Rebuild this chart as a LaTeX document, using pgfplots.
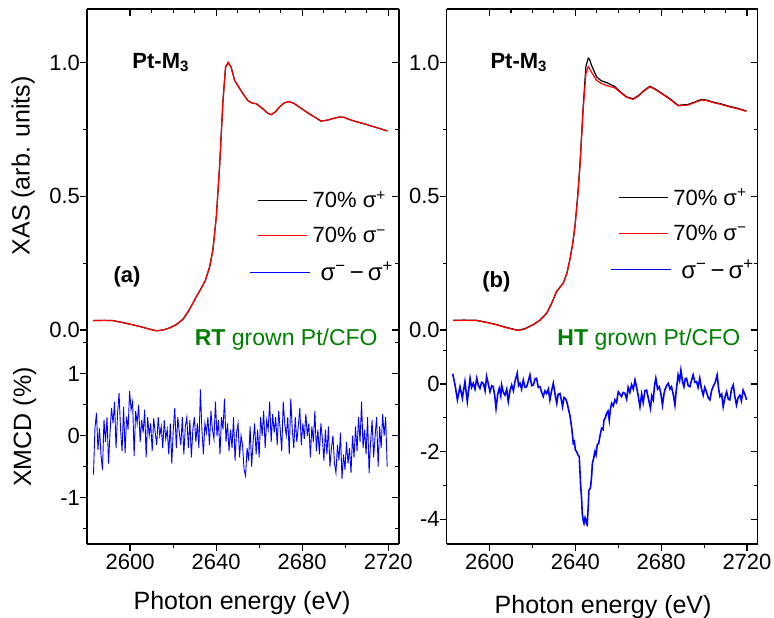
\documentclass[border=0pt]{standalone}
\usepackage{fontspec}
\setmainfont{Liberation Sans}
\usepackage{pgfplots}
\usepackage{pgfplotstable}
\pgfplotsset{compat=1.18}
\definecolor{dgreen}{RGB}{0,128,0}

\pgfplotstableread{
E y
2582.9 0.035
2588.0 0.036
2592.0 0.035
2597.0 0.027
2601.5 0.019
2606.0 0.010
2609.5 0.002
2612.3 -0.003
2615.5 0.000
2618.5 0.008
2621.5 0.020
2624.6 0.040
2627.5 0.075
2630.8 0.124
2633.0 0.155
2635.0 0.185
2637.0 0.236
2638.5 0.299
2640.1 0.423
2641.6 0.609
2643.2 0.858
2644.4 0.982
2645.6 1.000
2647.0 0.982
2648.6 0.933
2650.9 0.903
2652.8 0.880
2654.7 0.858
2656.8 0.848
2658.6 0.846
2661.7 0.827
2664.0 0.810
2665.6 0.805
2667.5 0.815
2669.4 0.833
2671.5 0.848
2673.7 0.854
2676.0 0.848
2678.7 0.833
2683.3 0.808
2686.0 0.795
2688.7 0.781
2691.5 0.784
2694.1 0.790
2697.2 0.796
2699.5 0.795
2701.9 0.787
2705.5 0.778
2709.6 0.769
2714.0 0.758
2719.6 0.744
}\xasA

\pgfplotstableread{
E y
2583.1 0.035
2588.0 0.036
2594.0 0.035
2599.0 0.027
2603.3 0.019
2608.0 0.008
2613.3 -0.002
2616.5 0.004
2620.3 0.019
2623.5 0.036
2626.6 0.062
2629.0 0.100
2631.2 0.143
2634.3 0.174
2636.0 0.210
2637.4 0.261
2638.7 0.320
2639.8 0.386
2641.0 0.490
2642.1 0.609
2643.6 0.821
2644.9 0.958
2646.0 0.985
2647.5 0.964
2649.9 0.933
2652.0 0.922
2654.5 0.914
2658.4 0.905
2661.0 0.888
2663.8 0.870
2666.9 0.862
2669.5 0.875
2671.6 0.891
2674.7 0.909
2677.0 0.900
2679.3 0.888
2684.0 0.863
2687.9 0.838
2692.5 0.841
2695.5 0.850
2698.8 0.860
2701.5 0.857
2704.2 0.850
2708.0 0.843
2711.9 0.834
2716.0 0.826
2719.7 0.817
}\xasBred

\pgfplotstableread{
E y
2583.1 0.036
2588.0 0.037
2594.0 0.036
2599.0 0.028
2603.3 0.020
2608.0 0.009
2613.3 -0.001
2616.5 0.005
2620.3 0.020
2623.5 0.037
2626.6 0.063
2629.0 0.101
2631.2 0.144
2634.3 0.175
2636.0 0.211
2637.4 0.262
2638.7 0.321
2639.8 0.388
2641.0 0.495
2642.1 0.615
2643.6 0.830
2644.9 0.985
2646.0 1.016
2646.6 1.012
2647.5 0.990
2649.9 0.946
2652.0 0.932
2654.5 0.925
2658.4 0.910
2661.0 0.890
2663.8 0.872
2666.9 0.864
2669.5 0.877
2671.6 0.893
2674.7 0.911
2677.0 0.902
2679.3 0.890
2684.0 0.865
2687.9 0.840
2692.5 0.843
2695.5 0.852
2698.8 0.862
2701.5 0.859
2704.2 0.852
2708.0 0.845
2711.9 0.836
2716.0 0.828
2719.7 0.819
}\xasBblack

\pgfplotstableread{
E y
2583.0 -0.63
2583.7 0.12
2584.4 0.37
2585.1 -0.23
2585.8 0.12
2586.5 -0.31
2587.2 -0.55
2587.9 0.26
2588.6 -0.10
2589.3 0.30
2590.0 -0.45
2590.7 0.05
2591.4 0.45
2592.1 0.20
2592.8 0.55
2593.5 -0.20
2594.2 0.35
2594.9 0.69
2595.6 0.10
2596.3 -0.25
2597.0 0.47
2597.7 -0.28
2598.4 0.31
2599.1 0.10
2599.8 0.72
2600.5 0.42
2601.2 0.55
2601.9 -0.33
2602.6 0.40
2603.3 0.20
2604.0 0.50
2604.7 -0.10
2605.4 0.25
2606.1 0.05
2606.8 0.42
2607.5 -0.35
2608.2 0.30
2608.9 0.00
2609.6 0.20
2610.3 -0.25
2611.0 0.28
2611.7 0.05
2612.4 -0.15
2613.1 0.30
2613.8 0.00
2614.5 0.15
2615.2 -0.20
2615.9 0.25
2616.6 -0.05
2617.3 0.10
2618.0 -0.30
2618.7 0.20
2619.4 -0.45
2620.1 0.10
2620.8 0.45
2621.5 -0.20
2622.2 0.30
2622.9 0.05
2623.6 -0.15
2624.3 0.30
2625.0 -0.30
2625.7 0.15
2626.4 0.30
2627.1 -0.20
2627.8 0.25
2628.5 -0.35
2629.2 0.10
2629.9 0.30
2630.6 -0.10
2631.3 0.20
2632.0 -0.20
2632.7 0.75
2633.4 0.10
2634.1 -0.30
2634.8 0.20
2635.5 0.05
2636.2 0.30
2636.9 -0.15
2637.6 0.40
2638.3 0.10
2639.0 -0.05
2639.7 0.55
2640.4 0.00
2641.1 0.25
2641.8 -0.30
2642.5 0.30
2643.2 0.10
2643.9 0.60
2644.6 -0.10
2645.3 0.20
2646.0 -0.25
2646.7 0.10
2647.4 -0.20
2648.1 0.30
2648.8 -0.40
2649.5 0.05
2650.2 0.20
2650.9 -0.35
2651.6 0.00
2652.3 -0.15
2653.0 -0.55
2653.7 -0.65
2654.4 -0.20
2655.1 -0.40
2655.8 0.15
2656.5 -0.50
2657.2 -0.10
2657.9 0.20
2658.6 -0.30
2659.3 0.10
2660.0 -0.35
2660.7 0.30
2661.4 0.00
2662.1 0.40
2662.8 -0.20
2663.5 0.25
2664.2 0.10
2664.9 0.55
2665.6 -0.10
2666.3 0.35
2667.0 0.05
2667.7 0.30
2668.4 -0.15
2669.1 0.40
2669.8 0.10
2670.5 -0.25
2671.2 0.55
2671.9 0.20
2672.6 0.00
2673.3 0.30
2674.0 -0.30
2674.7 0.60
2675.4 0.10
2676.1 -0.20
2676.8 0.30
2677.5 -0.10
2678.2 0.15
2678.9 0.45
2679.6 -0.15
2680.3 0.20
2681.0 -0.05
2681.7 0.35
2682.4 0.00
2683.1 0.20
2683.8 -0.35
2684.5 0.15
2685.2 -0.10
2685.9 0.40
2686.6 -0.25
2687.3 0.10
2688.0 -0.30
2688.7 0.20
2689.4 -0.05
2690.1 -0.40
2690.8 0.10
2691.5 -0.30
2692.2 0.15
2692.9 -0.50
2693.6 -0.20
2694.3 0.00
2695.0 -0.45
2695.7 -0.60
2696.4 -0.15
2697.1 -0.40
2697.8 0.05
2698.5 -0.70
2699.2 -0.30
2699.9 -0.55
2700.6 -0.10
2701.3 -0.45
2702.0 -0.20
2702.7 -0.60
2703.4 0.00
2704.1 -0.35
2704.8 0.15
2705.5 -0.25
2706.2 0.30
2706.9 -0.10
2707.6 0.55
2708.3 -0.20
2709.0 0.10
2709.7 -0.30
2710.4 0.30
2711.1 -0.60
2711.8 -0.10
2712.5 0.25
2713.2 -0.35
2713.9 0.00
2714.6 0.30
2715.3 -0.50
2716.0 0.15
2716.7 -0.20
2717.4 0.35
2718.1 0.00
2718.8 0.30
2719.5 -0.50
}\xmcdA

\pgfplotstableread{
E y
2582.8 0.30
2583.9 -0.03
2585.0 -0.47
2586.2 -0.08
2587.3 -0.42
2588.5 0.07
2589.6 -0.52
2590.9 0.17
2591.6 -0.10
2592.4 0.02
2593.2 -0.15
2594.0 0.17
2594.8 -0.05
2595.5 -0.13
2596.3 0.05
2597.1 0.02
2597.9 -0.20
2598.6 0.22
2599.4 0.00
2600.2 -0.23
2601.0 -0.05
2601.7 -0.08
2602.4 -0.35
2603.0 -0.72
2603.8 -0.30
2604.5 -0.13
2605.2 -0.35
2605.6 -0.03
2606.4 -0.25
2607.2 -0.33
2608.0 -0.15
2608.7 -0.52
2609.5 -0.20
2610.3 -0.03
2611.1 -0.20
2611.8 0.07
2612.9 0.32
2613.5 -0.05
2614.2 0.02
2614.9 -0.15
2615.7 0.12
2616.5 -0.10
2617.3 -0.08
2618.1 0.10
2618.8 0.27
2619.6 -0.05
2620.4 -0.03
2621.2 0.15
2621.9 0.17
2622.7 -0.10
2623.5 -0.08
2624.3 -0.25
2625.0 -0.37
2625.8 -0.20
2626.6 -0.28
2627.4 -0.15
2628.1 -0.47
2628.9 -0.20
2629.7 0.02
2630.5 -0.30
2631.3 -0.57
2632.0 -0.30
2632.8 -0.28
2633.4 -0.45
2634.0 -0.67
2634.7 -0.40
2635.4 -0.43
2636.1 -0.55
2636.7 -0.72
2637.5 -0.95
2638.2 -1.26
2638.7 -1.55
2639.0 -1.75
2639.5 -1.70
2640.0 -1.95
2640.6 -2.00
2641.2 -2.10
2641.8 -2.15
2642.4 -2.94
2642.9 -3.40
2643.2 -3.83
2643.7 -4.05
2644.0 -4.12
2644.5 -3.95
2644.9 -4.02
2645.2 -4.15
2645.5 -4.17
2646.0 -3.60
2646.3 -3.14
2646.8 -3.10
2647.1 -3.04
2647.6 -2.70
2647.9 -2.35
2648.5 -2.20
2649.1 -2.00
2649.6 -2.10
2650.2 -1.80
2650.9 -1.75
2651.4 -1.56
2652.2 -1.31
2652.9 -1.35
2653.3 -1.07
2654.0 -1.00
2654.5 -0.87
2655.2 -0.80
2655.8 -1.07
2656.3 -0.75
2656.9 -0.57
2657.7 -0.65
2658.4 -0.47
2659.2 -0.55
2660.0 -0.23
2660.8 -0.30
2661.5 -0.37
2662.3 -0.25
2663.1 -0.28
2663.9 -0.45
2664.6 -0.10
2665.4 -0.25
2666.2 -0.02
2667.0 -0.15
2667.8 0.12
2668.5 -0.08
2669.3 -0.35
2670.1 -0.67
2670.9 -0.30
2671.6 -0.55
2672.4 -0.20
2673.2 -0.18
2674.1 -0.45
2675.0 -0.72
2675.6 -0.35
2676.3 -0.47
2676.9 -0.05
2677.5 0.17
2678.3 -0.15
2679.1 -0.08
2679.9 -0.30
2680.6 -0.62
2681.3 -0.30
2681.7 -0.18
2682.5 -0.05
2683.3 0.02
2684.1 -0.15
2684.8 -0.08
2685.6 -0.30
2686.4 -0.62
2687.0 -0.20
2687.9 0.27
2688.6 0.10
2689.2 0.41
2690.0 0.05
2690.6 -0.08
2691.2 0.15
2691.8 0.17
2692.6 -0.05
2693.4 -0.08
2694.1 0.10
2694.9 0.27
2695.7 0.05
2696.5 0.07
2697.2 -0.10
2698.0 0.17
2698.8 -0.15
2699.6 -0.33
2700.3 -0.10
2701.1 -0.23
2701.9 -0.40
2702.7 -0.47
2703.5 -0.20
2704.2 -0.08
2705.2 0.05
2706.1 0.27
2706.8 -0.15
2707.4 -0.37
2708.2 -0.30
2708.9 -0.67
2709.7 -0.40
2710.5 -0.23
2711.3 -0.45
2712.0 -0.47
2712.8 -0.15
2713.6 -0.03
2714.3 -0.35
2715.1 -0.62
2715.9 -0.40
2716.7 -0.33
2717.4 -0.50
2718.2 -0.18
2719.0 -0.30
2719.8 -0.47
}\xmcdB

\pgfplotsset{
  common/.style={
    scale only axis, clip=false,
    xmin=2580, xmax=2725,
    xtick={2600,2640,2680,2720},
    /pgf/number format/assume math mode=true,
    /pgf/number format/set thousands separator={},
    tick label style={font=\fontsize{22}{24}\selectfont},
    label style={font=\fontsize{25}{28}\selectfont},
    axis line style={line width=1.3pt},
    every tick/.style={black, line width=1.1pt},
    major tick length=7pt, minor tick length=4pt,
    axis y line*=box,
    x axis line style={-},
    y axis line style={-},
  },
  xastop/.style={
    common,
    axis x line*=top,
    xtick align=inside,
    minor x tick num=3,
    xticklabels={},
    ytick align=center,
    every major y tick/.append style={xshift=-3.5pt},
    every minor y tick/.append style={xshift=-2pt},
    ymin=-0.03, ymax=1.2,
    ytick={0,0.5,1}, minor ytick={0.25,0.75},
    yticklabel style={/pgf/number format/.cd, fixed, fixed zerofill, precision=1},
    legend cell align=left,
    legend style={draw=none, fill=none, inner sep=0pt, row sep=14pt,
      font=\fontsize{22}{24}\selectfont, anchor=north west},
  },
  xmcdbot/.style={
    common,
    axis x line*=bottom,
    xtick align=outside,
    minor x tick num=1,
    ytick align=center,
    every major y tick/.append style={xshift=-3.5pt},
    every minor y tick/.append style={xshift=-2pt},
  },
  limgk/.style={legend image code/.code={\draw[black, line width=1.2pt] (0pt,0pt) -- (49pt,0pt);}},
  limgr/.style={legend image code/.code={\draw[red, line width=1.2pt] (0pt,0pt) -- (49pt,0pt);}},
  limgb/.style={legend image code/.code={\draw[blue, line width=1.2pt] (-8pt,0pt) -- (52pt,0pt);}},
}

\begin{document}
\begin{tikzpicture}
\useasboundingbox (0pt,0pt) rectangle (774pt,618pt);

% ---------- left panel, XAS ----------
\begin{axis}[xastop, at={(87pt,280pt)}, anchor=south west,
  width=312pt, height=329pt,
  ylabel={XAS (arb. units)},
  ylabel style={at={(axis description cs:-0.205,0.523)}, anchor=center},
  legend style={at={(axis description cs:0.52,0.452)}},
]
\addplot[black, line width=1.2pt, forget plot] table[x=E,y=y] {\xasA};
\addplot[red, line width=1.2pt, forget plot] table[x=E,y=y] {\xasA};
\addlegendimage{limgk}
\addlegendentry{70\% σ\textsuperscript{+}}
\addlegendimage{limgr}
\addlegendentry{70\% σ\textsuperscript{−}}
\addlegendimage{limgb}
\addlegendentry{\fontsize{24}{26}\selectfont\hspace{8pt}σ\textsuperscript{−}\,−\,σ\textsuperscript{+}}
\node[anchor=west, font=\fontsize{22}{24}\selectfont\bfseries] at (axis cs:2599.5,1.0) {Pt-M\textsubscript{\fontsize{15}{16}\selectfont 3}};
\node[anchor=west, font=\fontsize{22}{24}\selectfont\bfseries] at (axis cs:2590.7,0.198) {(a)};
\end{axis}

% ---------- left panel, XMCD ----------
\begin{axis}[xmcdbot, at={(87pt,74pt)}, anchor=south west,
  width=312pt, height=206pt,
  ymin=-1.75, ymax=1.58,
  ytick={-1,0,1}, minor ytick={-1.5,-0.5,0.5,1.5},
  ylabel={XMCD (\%)},
  ylabel style={at={(axis description cs:-0.2,0.568)}, anchor=center},
  xlabel={Photon energy (eV)},
  xlabel style={at={(axis description cs:0.497,-0.286)}, anchor=center},
]
\addplot[blue, line width=0.9pt] table[x=E,y=y] {\xmcdA};
\node[anchor=west, text=dgreen, font=\fontsize{23}{25}\selectfont] at (axis cs:2628.5,1.55) {\textbf{RT} grown Pt/CFO};
\end{axis}

% ---------- right panel, XAS ----------
\begin{axis}[xastop, at={(446.7pt,280pt)}, anchor=south west,
  width=311pt, height=329pt,
  legend style={at={(axis description cs:0.525,0.46)}},
]
\addplot[black, line width=1.2pt, forget plot] table[x=E,y=y] {\xasBblack};
\addplot[red, line width=1.2pt, forget plot] table[x=E,y=y] {\xasBred};
\addlegendimage{limgk}
\addlegendentry{70\% σ\textsuperscript{+}}
\addlegendimage{limgr}
\addlegendentry{70\% σ\textsuperscript{−}}
\addlegendimage{limgb}
\addlegendentry{\fontsize{24}{26}\selectfont\hspace{8pt}σ\textsuperscript{−}\,−\,σ\textsuperscript{+}}
\node[anchor=west, font=\fontsize{22}{24}\selectfont\bfseries] at (axis cs:2598.8,1.0) {Pt-M\textsubscript{\fontsize{15}{16}\selectfont 3}};
\node[anchor=west, font=\fontsize{22}{24}\selectfont\bfseries] at (axis cs:2595.0,0.18) {(b)};
\end{axis}

% ---------- right panel, XMCD ----------
\begin{axis}[xmcdbot, at={(446.7pt,74pt)}, anchor=south west,
  width=311pt, height=206pt,
  ymin=-4.73, ymax=1.36,
  ytick={-4,-2,0}, minor ytick={-3,-1,1},
  xlabel={Photon energy (eV)},
  xlabel style={at={(axis description cs:0.503,-0.306)}, anchor=center},
]
\addplot[blue, line width=1.6pt] table[x=E,y=y] {\xmcdB};
\node[anchor=west, text=dgreen, font=\fontsize{23}{25}\selectfont] at (axis cs:2630.0,1.30) {\textbf{HT} grown Pt/CFO};
\end{axis}
\end{tikzpicture}
\end{document}
